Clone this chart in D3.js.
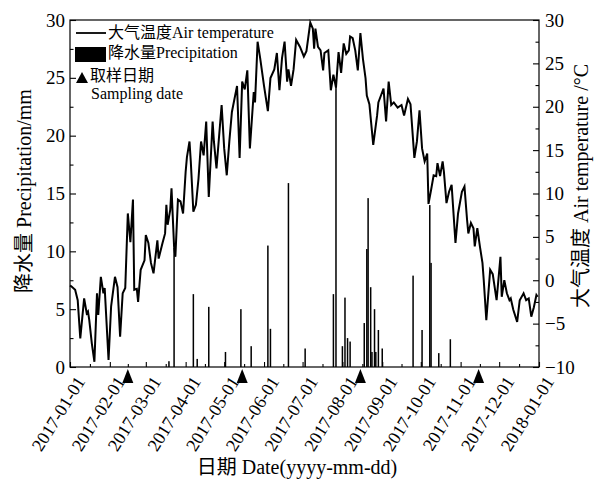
<!DOCTYPE html>
<html>
<head>
<meta charset="utf-8">
<script src="https://cdn.jsdelivr.net/npm/d3@7"></script>
<style>
  body { margin: 0; background: #fff; }
  svg text { font-family: "Liberation Serif", "Times New Roman", Times, "DejaVu Serif", "Noto Sans CJK SC", serif; fill: #000; }
</style>
</head>
<body>
<div id="chart"></div>
<script>
const width = 600, height = 486;
const plotL = 70, plotR = 539, plotT = 20, plotB = 367;

// days counted from 2017-01-01
const rainDays = [77, 81, 96, 99, 108, 121, 133, 141, 154, 156, 170, 183, 205, 207, 212, 214, 216, 218,
  229, 231, 232, 234, 235, 237, 238, 240, 243, 267, 274, 280, 281, 287, 296];
const rainValues = [0.5, 10.3, 6.3, 0.7, 5.2, 1.3, 5.0, 1.8, 10.5, 3.3, 15.9, 1.6, 6.3, 24.2, 1.8, 6.0, 2.5, 2.2,
  3.8, 10.2, 14.6, 6.9, 1.3, 5.0, 1.3, 3.2, 1.6, 7.9, 3.2, 14.0, 9.0, 1.2, 2.4];

// [day, °C]
const airTemp = [
  [0, -0.6], [1, -0.7], [4, -1.1], [6, -2.3], [8, -6.7], [11, -2.1], [13, -3.8], [14, -3.6], [15, -4.6],
  [17, -7.3], [19, -9.4], [21, -1.5], [22, -4.0], [24, 0.4], [26, -1.5], [27, -0.9], [30, -9.2], [32, -3.0],
  [35, 0.4], [37, -0.8], [39, -6.5], [41, -1.5], [43, -0.9], [45, 7.7], [47, 4.4], [49, 9.3], [50, -1.1],
  [52, -1.0], [53, -2.5], [55, 1.2], [58, 2.3], [59, 5.2], [61, 4.3], [63, 2.0], [65, 0.8], [68, 4.6],
  [69, 2.5], [72, 4.3], [74, 5.4], [75, 8.7], [76, 6.4], [78, 8.1], [79, 10.6], [81, 3.9], [82, 2.7],
  [84, 9.3], [86, 9.1], [88, 7.7], [90, 12.5], [91, 14.2], [93, 16.0], [94, 13.7], [96, 7.9], [98, 8.7],
  [100, 11.7], [102, 16.0], [104, 14.4], [106, 18.3], [108, 9.6], [111, 18.3], [112, 16.0], [114, 12.9],
  [118, 20.2], [120, 15.2], [122, 12.1], [124, 16.0], [126, 19.4], [130, 22.4], [132, 14.1], [134, 22.9],
  [136, 22.0], [138, 24.2], [140, 15.2], [143, 21.7], [144, 20.5], [146, 27.5], [148, 25.6], [151, 22.4],
  [154, 19.5], [156, 23.3], [159, 24.3], [161, 26.2], [163, 21.9], [165, 25.6], [167, 27.5], [169, 22.9],
  [170, 24.3], [172, 22.4], [174, 24.3], [176, 27.7], [179, 26.9], [182, 25.8], [184, 26.4], [187, 29.7],
  [189, 29.0], [190, 26.7], [191, 29.0], [193, 26.9], [195, 26.5], [197, 24.2], [198, 26.2], [201, 26.5],
  [203, 21.9], [205, 23.7], [207, 22.2], [209, 26.3], [211, 23.9], [213, 27.3], [215, 26.1], [217, 26.5],
  [218, 28.1], [220, 27.9], [222, 26.5], [224, 24.2], [226, 28.5], [228, 25.5], [230, 23.3], [231, 21.3],
  [233, 20.3], [236, 15.6], [239, 19.0], [240, 20.5], [242, 21.3], [244, 22.1], [246, 18.3], [248, 22.9],
  [250, 20.2], [252, 20.5], [255, 19.9], [258, 20.2], [260, 19.0], [263, 20.9], [265, 20.3], [268, 14.1],
  [270, 16.0], [272, 19.6], [274, 15.2], [276, 13.7], [278, 14.6], [279, 8.8], [281, 10.4], [283, 12.1],
  [285, 12.0], [286, 13.5], [288, 12.0], [290, 13.7], [291, 12.5], [293, 8.9], [295, 10.2], [297, 11.0],
  [300, 4.3], [302, 7.7], [305, 10.2], [307, 10.8], [309, 7.0], [310, 5.4], [312, 6.6], [314, 6.0],
  [315, 3.9], [317, 6.0], [319, 3.9], [321, 2.0], [322, 0.0], [324, -4.6], [327, 1.2], [329, 0.7],
  [332, -2.3], [335, 2.7], [336, -1.9], [338, 0.0], [340, -1.5], [342, -2.3], [343, -2.1], [345, -3.4],
  [348, -4.8], [350, -2.3], [353, -1.5], [355, -2.3], [357, -2.1], [359, -4.2], [361, -3.1], [363, -1.7],
  [364, -1.9]
];

const samplingDays = [45, 134, 226, 318];

const precipTicks = [0, 5, 10, 15, 20, 25, 30];
const tempTicks = [-10, -5, 0, 5, 10, 15, 20, 25, 30];

const base = new Date(2017, 0, 1);
const toDate = d => d3.timeDay.offset(base, d);

const x = d3.scaleTime().domain([base, new Date(2018, 0, 1)]).range([plotL, plotR]);
const yP = d3.scaleLinear().domain([0, 30]).range([plotB, plotT]);
const yT = d3.scaleLinear().domain([-10, 30]).range([plotB, plotT]);

const svg = d3.select("#chart").append("svg")
  .attr("width", width)
  .attr("height", height);

// precipitation bars
svg.append("g").selectAll("rect")
  .data(rainDays)
  .join("rect")
  .attr("x", d => x(toDate(d)) - 0.75)
  .attr("width", 1.5)
  .attr("y", (d, i) => yP(rainValues[i]))
  .attr("height", (d, i) => yP(0) - yP(rainValues[i]))
  .attr("fill", "#000");

// air temperature
svg.append("path")
  .datum(airTemp)
  .attr("fill", "none")
  .attr("stroke", "#000")
  .attr("stroke-width", 2)
  .attr("d", d3.line().x(d => x(toDate(d[0]))).y(d => yT(d[1])));

// frame
svg.append("rect")
  .attr("x", plotL).attr("y", plotT)
  .attr("width", plotR - plotL).attr("height", plotB - plotT)
  .attr("fill", "none").attr("stroke", "#000").attr("stroke-width", 1.2);

function styleAxis(g, size) {
  g.select(".domain").remove();
  g.attr("font-size", size).attr("font-family", null);
  g.selectAll("line").attr("stroke", "#000").attr("stroke-width", 1.1);
}

const minorOf = arr => arr.slice(1).map((v, i) => (v + arr[i]) / 2);

// left axis
svg.append("g").attr("transform", `translate(${plotL},0)`)
  .call(d3.axisLeft(yP).tickValues(precipTicks).tickSize(-6).tickPadding(5))
  .call(g => styleAxis(g, 19));
svg.append("g").attr("transform", `translate(${plotL},0)`)
  .call(d3.axisLeft(yP).tickValues(minorOf(precipTicks)).tickSize(-3.5).tickFormat(""))
  .call(g => styleAxis(g, 19));

// right axis
svg.append("g").attr("transform", `translate(${plotR},0)`)
  .call(d3.axisRight(yT).tickValues(tempTicks).tickSize(-6).tickPadding(6))
  .call(g => styleAxis(g, 19));
svg.append("g").attr("transform", `translate(${plotR},0)`)
  .call(d3.axisRight(yT).tickValues(minorOf(tempTicks)).tickSize(-3.5).tickFormat(""))
  .call(g => styleAxis(g, 19));

// bottom axis
const months = d3.timeMonth.range(base, new Date(2018, 0, 2));
const axB = svg.append("g").attr("transform", `translate(0,${plotB})`)
  .call(d3.axisBottom(x).tickValues(months).tickSize(-5).tickFormat(d3.timeFormat("%Y-%m-%d")))
  .call(g => styleAxis(g, 18));
axB.selectAll("text")
  .attr("x", 0).attr("y", 0).attr("dy", "0.35em")
  .attr("text-anchor", "end")
  .attr("transform", "translate(10,11) rotate(-58)");
const monthMid = months.slice(1).map((m, i) => new Date((+m + +months[i]) / 2));
svg.append("g").attr("transform", `translate(0,${plotB})`)
  .call(d3.axisBottom(x).tickValues(monthMid).tickSize(-3).tickFormat(""))
  .call(g => styleAxis(g, 18));

// sampling dates
svg.append("g").selectAll("path")
  .data(samplingDays)
  .join("path")
  .attr("transform", d => `translate(${x(toDate(d))},369)`)
  .attr("d", "M0,0L5.5,14L-5.5,14Z")
  .attr("fill", "#000");

// axis titles
svg.append("text")
  .attr("transform", "translate(31,191) rotate(-90)")
  .attr("text-anchor", "middle")
  .attr("font-size", 20)
  .text("降水量 Precipitation/mm");
svg.append("text")
  .attr("transform", "translate(588,186) rotate(-90)")
  .attr("text-anchor", "middle")
  .attr("font-size", 20)
  .text("大气温度 Air temperature /°C");
svg.append("text")
  .attr("x", 297).attr("y", 474)
  .attr("text-anchor", "middle")
  .attr("font-size", 20)
  .text("日期 Date(yyyy-mm-dd)");

// legend
const lg = svg.append("g").attr("font-size", 16);
lg.append("line").attr("x1", 76).attr("x2", 106).attr("y1", 33).attr("y2", 33)
  .attr("stroke", "#000").attr("stroke-width", 1.8);
lg.append("text").attr("x", 108).attr("y", 38).text("大气温度Air temperature");
lg.append("rect").attr("x", 75).attr("y", 47).attr("width", 31).attr("height", 15).attr("fill", "#000");
lg.append("text").attr("x", 108).attr("y", 58).text("降水量Precipitation");
lg.append("path").attr("d", "M82,72L88,83L76,83Z").attr("fill", "#000");
lg.append("text").attr("x", 90).attr("y", 81).text("取样日期");
lg.append("text").attr("x", 91).attr("y", 99).text("Sampling date");
</script>
</body>
</html>
